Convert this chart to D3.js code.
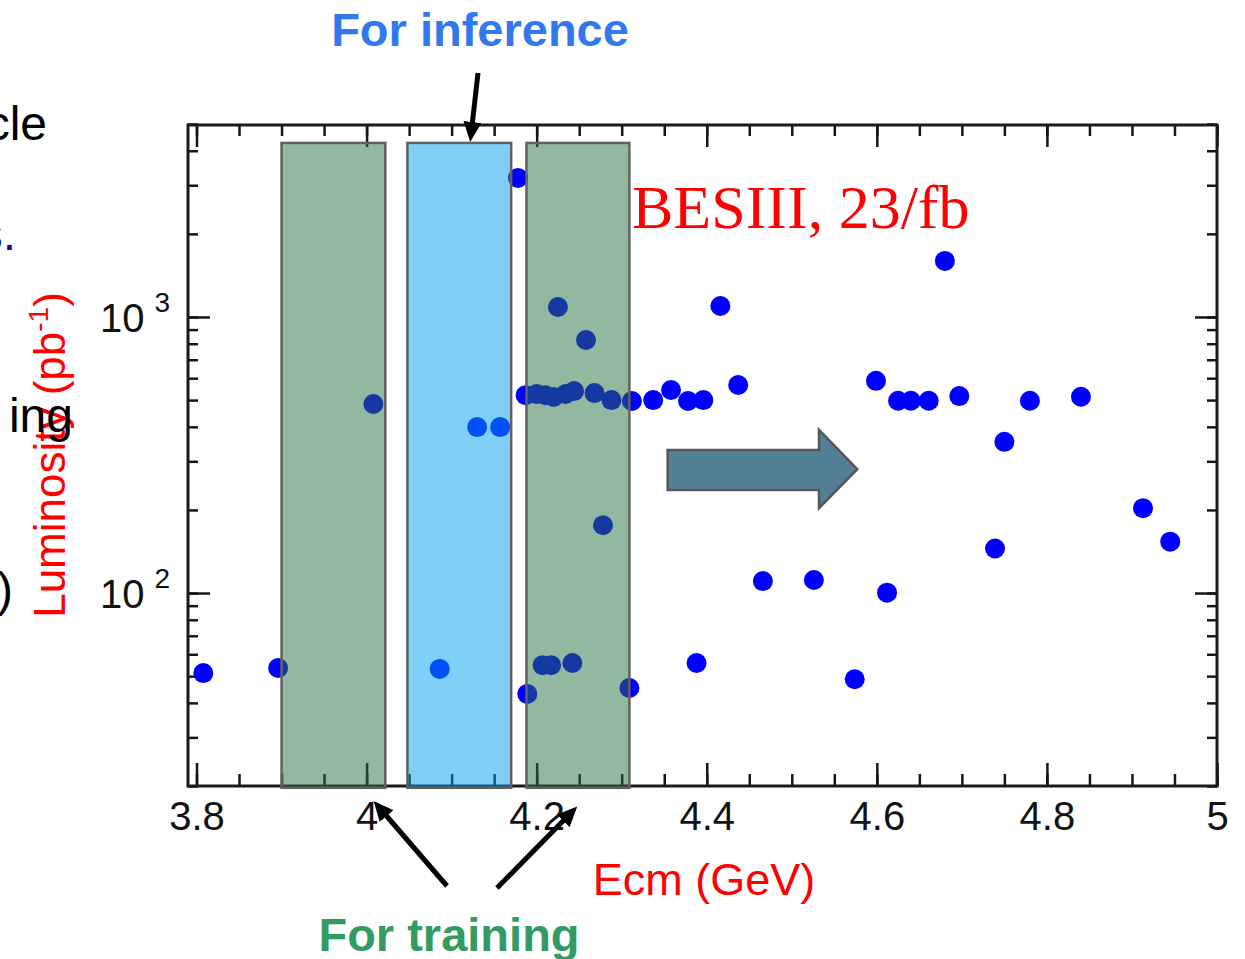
<!DOCTYPE html>
<html>
<head>
<script src="https://d3js.org/d3.v7.min.js"></script>
<style>
  body { margin: 0; background: #fff; }
  svg { display: block; }
  text { font-family: "Liberation Sans", Arial, sans-serif; }
</style>
</head>
<body>
<svg id="chart" width="1245" height="959"></svg>
<script>
// data
const ecm = [3.808, 3.896, 4.008, 4.086, 4.130, 4.157, 4.178,
  4.187, 4.200, 4.210, 4.220, 4.234, 4.244, 4.268, 4.288, 4.312, 4.337, 4.358, 4.378, 4.396, 4.437,
  4.225, 4.258, 4.416, 4.278,
  4.189, 4.207, 4.217, 4.242, 4.309, 4.388,
  4.466, 4.526,
  4.574, 4.599, 4.612, 4.625, 4.640, 4.661, 4.680, 4.697, 4.739, 4.750, 4.780, 4.840, 4.913, 4.945];
const lumi = [51.3, 53.5, 484, 53.1, 399, 399, 3190,
  521, 526, 521, 513, 526, 539, 530, 500, 496, 500, 544, 496, 500, 567,
  1087, 825, 1096, 176,
  43.1, 54.8, 54.8, 55.8, 45.3, 55.8,
  110.5, 111.5,
  48.7, 587, 100.3, 497, 497, 497, 1596, 517, 145, 353, 497, 514, 203, 153.5];

const xTicks = [3.8, 4.0, 4.2, 4.4, 4.6, 4.8, 5.0];
const xTickLabels = ["3.8", "4", "4.2", "4.4", "4.6", "4.8", "5"];
const yTicks = [100, 1000];
const yTickExp = ["2", "3"];

// shaded energy ranges (GeV)
const trainRanges = [[3.900, 4.022], [4.188, 4.309]];
const inferRanges = [[4.048, 4.170]];
const boxTop = 4270, boxBottom = 19.7;

const svg = d3.select("#chart");
const margin = {left: 188, right: 1217, top: 125, bottom: 786};

const x = d3.scaleLinear().domain([3.79, 5.0]).range([margin.left, margin.right]);
const y = d3.scaleLog().domain([20, 5000]).range([margin.bottom, 124]);

const tickColor = "#151515";

function ticks(axis, tx, ty) {
  const g = svg.append("g").attr("transform", `translate(${tx},${ty})`).call(axis);
  g.select(".domain").remove();
  g.selectAll(".tick line").attr("stroke", tickColor).attr("stroke-width", 2.5);
  return g;
}

const xMinor = d3.range(3.8, 5.0001, 0.05);
ticks(d3.axisBottom(x).tickValues(xMinor).tickSize(-12).tickFormat(""), 0, margin.bottom);
ticks(d3.axisTop(x).tickValues(xMinor).tickSize(-11).tickFormat(""), 0, margin.top);
ticks(d3.axisTop(x).tickValues(xTicks).tickSize(-22).tickFormat(""), 0, margin.top);
const bx = ticks(d3.axisBottom(x).tickValues(xTicks).tickSize(-23).tickPadding(16)
  .tickFormat((d, i) => xTickLabels[i]), 0, margin.bottom);
bx.selectAll(".tick text").attr("font-size", 40).attr("fill", "#111");

const yMinor = y.ticks();
ticks(d3.axisLeft(y).tickValues(yMinor).tickSize(-10).tickFormat(""), margin.left, 0);
ticks(d3.axisRight(y).tickValues(yMinor).tickSize(-10).tickFormat(""), margin.right, 0);
ticks(d3.axisLeft(y).tickValues(yTicks).tickSize(-22).tickFormat(""), margin.left, 0);
ticks(d3.axisRight(y).tickValues(yTicks).tickSize(-22).tickFormat(""), margin.right, 0);

yTicks.forEach((v, i) => {
  const t = svg.append("text")
    .attr("x", 100).attr("y", y(v) + 15)
    .attr("font-size", 40).attr("fill", "#111");
  t.append("tspan").text("10");
  t.append("tspan").attr("dx", 10).attr("dy", -20).attr("font-size", 28).text(yTickExp[i]);
});

// points
const pts = ecm.map((e, i) => ({e: e, l: lumi[i]}));
svg.append("g").selectAll("circle").data(pts).join("circle")
  .attr("cx", d => x(d.e))
  .attr("cy", d => y(d.l))
  .attr("r", 10)
  .attr("fill", "#0000ff");

// frame
svg.append("rect")
  .attr("x", margin.left).attr("y", margin.top)
  .attr("width", margin.right - margin.left).attr("height", margin.bottom - margin.top)
  .attr("fill", "none").attr("stroke", "#1a1a1a").attr("stroke-width", 3);

// shaded boxes
function boxes(ranges, color) {
  svg.append("g").selectAll("rect").data(ranges).join("rect")
    .attr("x", d => x(d[0]))
    .attr("y", y(boxTop))
    .attr("width", d => x(d[1]) - x(d[0]))
    .attr("height", y(boxBottom) - y(boxTop))
    .attr("fill", color).attr("fill-opacity", 0.5)
    .attr("stroke", "#616161").attr("stroke-width", 2.5);
}
boxes(trainRanges, "rgb(40,114,66)");
boxes(inferRanges, "rgb(0,160,240)");

// block arrow
const ax0 = 4.354, ax1 = 4.577, axHead = 4.532;
const shaft = [236, 330], head = [203, 390], tipL = 281;
const arrowPts = [
  [x(ax0), y(shaft[1])], [x(axHead), y(shaft[1])], [x(axHead), y(head[1])],
  [x(ax1), y(tipL)],
  [x(axHead), y(head[0])], [x(axHead), y(shaft[0])], [x(ax0), y(shaft[0])]
];
svg.append("polygon")
  .attr("points", arrowPts.map(p => p.join(",")).join(" "))
  .attr("fill", "#537f97").attr("stroke", "#565656").attr("stroke-width", 2.5);

// titles
svg.append("text")
  .attr("x", 632).attr("y", 228)
  .style("font-family", "'Liberation Serif', 'Times New Roman', serif")
  .attr("font-size", 62).attr("fill", "#ff0000")
  .text("BESIII, 23/fb");

svg.append("text")
  .attr("x", 704).attr("y", 895).attr("text-anchor", "middle")
  .attr("font-size", 45).attr("fill", "#ff0000")
  .text("Ecm (GeV)");

const yl = svg.append("text")
  .attr("transform", "translate(65,455) rotate(-90)")
  .attr("text-anchor", "middle")
  .attr("font-size", 44).attr("fill", "#ff0000");
yl.append("tspan").text("Luminosity (pb");
yl.append("tspan").attr("dy", -17).attr("font-size", 28).text("-1");
yl.append("tspan").attr("dy", 17).text(")");

// cut-off slide text on the left
svg.append("text").attr("x", 47).attr("y", 140).attr("text-anchor", "end")
  .attr("font-size", 48).attr("fill", "#000").text("cle");
svg.append("text").attr("x", 16).attr("y", 250).attr("text-anchor", "end")
  .attr("font-size", 48).attr("fill", "#101090").text("s.");
svg.append("text").attr("x", 73).attr("y", 432).attr("text-anchor", "end")
  .attr("font-size", 48).attr("fill", "#000").text("ing");
svg.append("text").attr("x", 13).attr("y", 606).attr("text-anchor", "end")
  .attr("font-size", 48).attr("fill", "#000").text(")");

// annotations
svg.append("defs").append("marker")
  .attr("id", "head").attr("markerUnits", "userSpaceOnUse")
  .attr("viewBox", "0 0 20 18").attr("refX", 4).attr("refY", 9)
  .attr("markerWidth", 20).attr("markerHeight", 18).attr("orient", "auto")
  .append("path").attr("d", "M0,0 L20,9 L0,18 Z").attr("fill", "#000");

const notes = [
  [478, 73, 472, 126],
  [447, 886, 384, 813],
  [497, 888, 566, 818]
];
svg.append("g").selectAll("line").data(notes).join("line")
  .attr("x1", d => d[0]).attr("y1", d => d[1])
  .attr("x2", d => d[2]).attr("y2", d => d[3])
  .attr("stroke", "#000").attr("stroke-width", 5)
  .attr("marker-end", "url(#head)");

svg.append("text")
  .attr("x", 480).attr("y", 46).attr("text-anchor", "middle")
  .attr("font-size", 47).attr("font-weight", "bold").attr("fill", "#2f78ee")
  .text("For inference");
svg.append("text")
  .attr("x", 449).attr("y", 951).attr("text-anchor", "middle")
  .attr("font-size", 47).attr("font-weight", "bold").attr("fill", "#329b62")
  .text("For training");
</script>
</body>
</html>
